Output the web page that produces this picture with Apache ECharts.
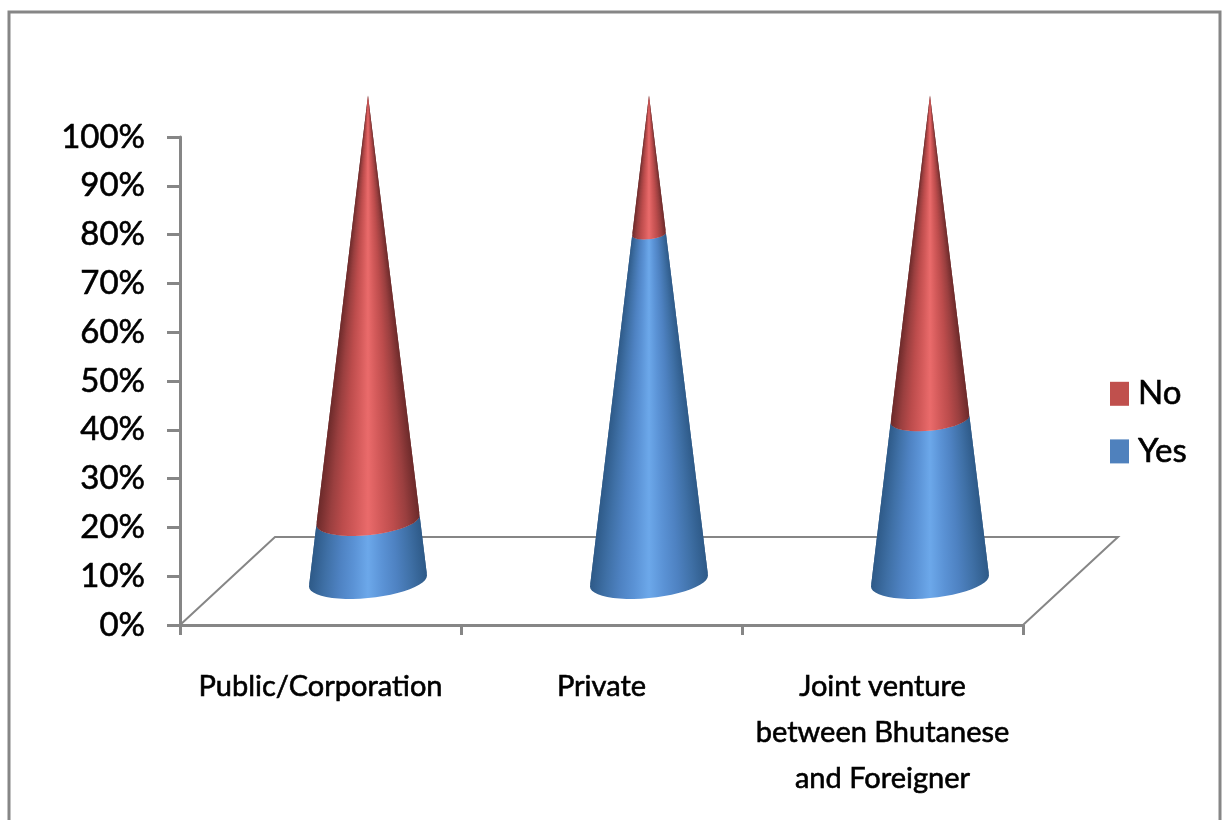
<!DOCTYPE html>
<html>
<head>
<meta charset="utf-8">
<style>html,body{margin:0;padding:0;background:#fff}#c{width:1222px;height:820px}</style>
<script src="https://cdn.jsdelivr.net/npm/echarts@6/dist/echarts.min.js"></script>
</head>
<body>
<div id="c"></div>
<script>
const categories = ['Public/Corporation', 'Private', 'Joint venture\nbetween Bhutanese\nand Foreigner'];
const yesValues = [12.5, 71.4, 33.3];
const noValues = [87.5, 28.6, 66.7];
const yesShade = ['#2E5A88', '#3F70A6', '#4E82C2', '#5B93D6', '#6CA8EA'];
const noShade = ['#6C2A2A', '#9A3F3F', '#BC4C4C', '#D35A5A', '#EA6B6B'];
const FONT = 'Lato,"Liberation Sans",sans-serif';
const AXIS = '#868686';

function gradient(stops){
  const list=[], n=stops.length-1;
  stops.forEach((c,i)=>list.push({offset:i/n/2,color:c}));
  stops.slice(0,-1).reverse().forEach((c,i)=>list.push({offset:0.5+(i+1)/n/2,color:c}));
  return list;
}
function coneRender(stops){
  const colorStops=gradient(stops);
  return function(params,api){
    const cat=api.value(0), lo=api.value(1)/100, hi=api.value(2)/100;
    const base=api.coord([cat,0]), top=api.coord([cat,100]);
    const band=api.size([1,0])[0];
    const dx=band*0.169, dy=-44;
    const cx=base[0]+dx, cy0=base[1]+dy, h=(base[1]-top[1])*0.995;
    const rad=band*0.21, minor=rad*0.29, tilt=0.093;
    const pt=(u,t)=>{
      const k=1-t;
      return [cx+rad*k*u, cy0-h*t-tilt*rad*k*u+minor*k*Math.sqrt(Math.max(0,1-u*u))];
    };
    const arc=(t,rev)=>{
      const out=[];
      for(let i=0;i<=24;i++){const th=Math.PI*(rev?i:24-i)/24;out.push(pt(Math.cos(th),t));}
      return out;
    };
    const slices=Math.max(1,Math.ceil((hi-lo)*160)), children=[];
    for(let s=0;s<slices;s++){
      const t0=lo+(hi-lo)*s/slices,t1=lo+(hi-lo)*Math.min(slices,s+2)/slices;
      const fill=new echarts.graphic.LinearGradient(0,0,1,0,colorStops);
      children.push({type:'polygon',silent:true,
        shape:{points:arc(t0,false).concat(arc(t1,true))},
        style:{fill:fill}});
    }
    return {type:'group',children};
  };
}
function floorRender(params,api){
  const g=params.coordSys;
  const l=g.x,r=g.x+g.width,b=g.y+g.height;
  const band=g.width/categories.length;
  const dx=band*0.338,dy=-88;
  return {type:'polyline',silent:true,
    shape:{points:[[l,b],[l+dx,b+dy],[r+dx,b+dy],[r,b]]},
    style:{fill:null,stroke:AXIS,lineWidth:2}};
}
const chart=echarts.init(document.getElementById('c'),null,{renderer:'canvas'});
chart.setOption({
  animation:false,
  backgroundColor:'#fff',
  graphic:[{type:'rect',z:-1,silent:true,shape:{x:9,y:12,width:1211,height:840},
    style:{fill:null,stroke:AXIS,lineWidth:3}}],
  grid:{left:180,right:199,top:137,bottom:195,containLabel:false},
  legend:{show:true,orient:'vertical',left:1105,top:372,itemWidth:19,itemHeight:24,itemGap:24,
    icon:'rect',data:['No','Yes'],selectedMode:false,
    textStyle:{fontFamily:FONT,fontSize:33,color:'#000',padding:[0,0,0,4],textBorderColor:'#000',textBorderWidth:0.6}},
  xAxis:{type:'category',data:categories,
    axisLine:{lineStyle:{color:AXIS,width:3}},
    axisTick:{show:true,length:10,alignWithLabel:false,lineStyle:{color:AXIS,width:3}},
    splitLine:{show:false},
    axisLabel:{interval:0,margin:39,fontFamily:FONT,fontSize:29,lineHeight:46,color:'#000',textBorderColor:'#000',textBorderWidth:0.6}},
  yAxis:{type:'value',min:0,max:100,interval:10,
    axisLine:{show:true,lineStyle:{color:AXIS,width:3}},
    axisTick:{show:true,length:13,lineStyle:{color:AXIS,width:3}},
    splitLine:{show:false},
    axisLabel:{formatter:'{value}%',margin:35,fontFamily:FONT,fontSize:33,color:'#000',padding:[8,0,0,0],textBorderColor:'#000',textBorderWidth:0.6}},
  series:[
    {type:'custom',name:'Floor',z:1,renderItem:floorRender,data:[[0,0]],encode:{x:0,y:1},silent:true,tooltip:{show:false}},
    {type:'custom',name:'Yes',z:3,itemStyle:{color:'#4F81BD'},renderItem:coneRender(yesShade),
      encode:{x:0,y:[1,2]},data:yesValues.map((v,i)=>[i,0,v])},
    {type:'custom',name:'No',z:3,itemStyle:{color:'#C0504D'},renderItem:coneRender(noShade),
      encode:{x:0,y:[1,2]},data:noValues.map((v,i)=>[i,yesValues[i],yesValues[i]+v])}
  ]
});
</script>
</body>
</html>
